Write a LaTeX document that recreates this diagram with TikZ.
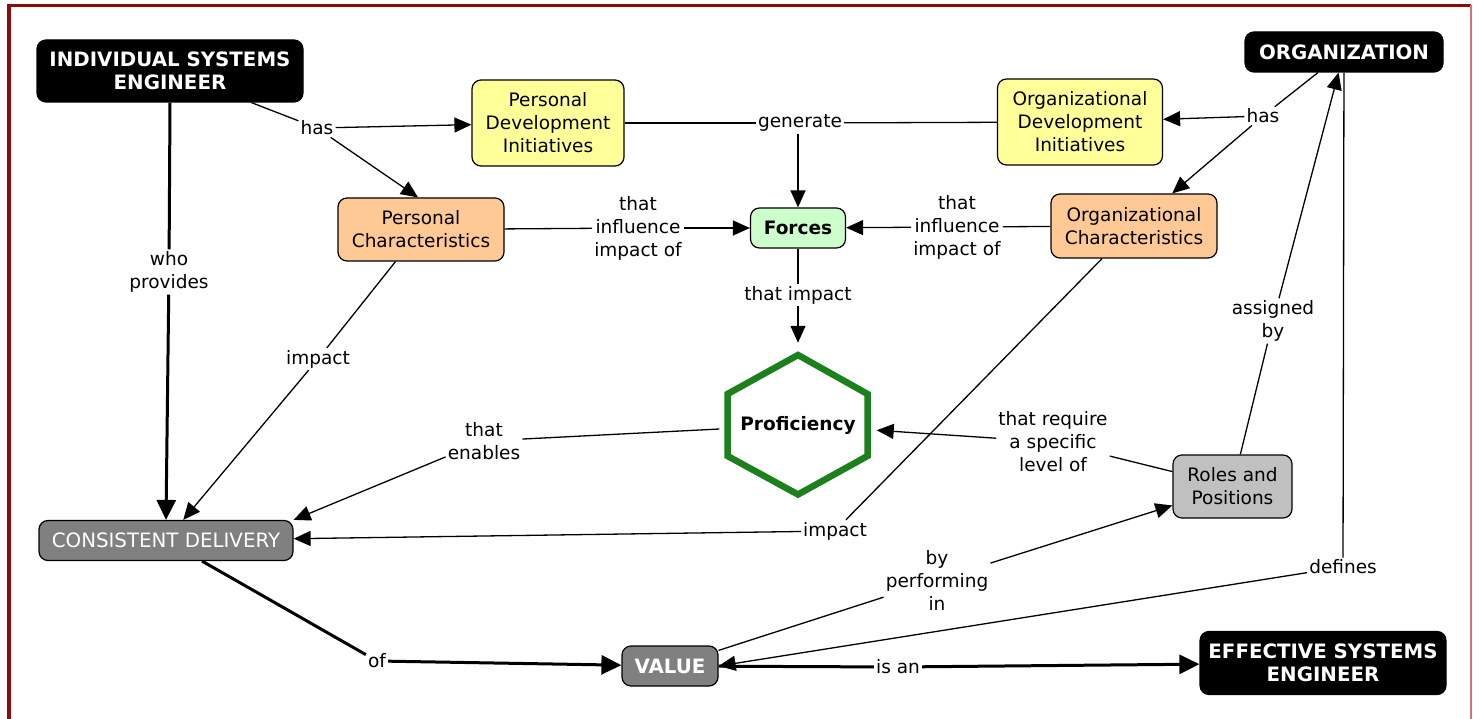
\documentclass[tikz,border=0pt]{standalone}
\usepackage{fontspec}
\setmainfont{DejaVu Sans}
\usetikzlibrary{arrows.meta,calc}
\definecolor{framered}{RGB}{139,12,12}
\definecolor{framepink}{RGB}{205,120,120}
\definecolor{initiative}{RGB}{255,255,153}
\definecolor{trait}{RGB}{255,201,150}
\definecolor{forcegreen}{RGB}{204,255,204}
\definecolor{rolegrey}{RGB}{192,192,192}
\definecolor{midgrey}{RGB}{128,128,128}
\definecolor{hexgreen}{RGB}{28,128,28}
\begin{document}
\begin{tikzpicture}[x=1pt,y=-1pt,
  every node/.style={font=\fontsize{18.5}{23}\selectfont, align=center},
  concept/.style={draw=black, line width=1.2pt, rounded corners=9pt, inner sep=0pt},
  capsfont/.style={font=\fontsize{19.8}{23}\selectfont},
  capsbold/.style={font=\fontsize{19.8}{23}\selectfont\bfseries},
  darkc/.style={concept, fill=black, text=white, capsbold},
  lp/.style={inner sep=2pt, fill=white},
  con/.style={line width=1.3pt},
  conarr/.style={con, -{Triangle[length=17pt,width=15pt]}},
  heavy/.style={line width=3pt},
  heavyarr/.style={heavy, -{Triangle[length=20pt,width=19pt]}},
]
\useasboundingbox (0,0) rectangle (1473,719);

% outer frame
\draw[framered, line width=3.5pt] (9,719) -- (9,5.5) -- (1471,5.5);
\draw[framepink, line width=1.3pt] (1471,5.5) -- (1471,719);

% concepts
\node[darkc, minimum width=266pt, minimum height=62pt] (ise) at (170,71) {INDIVIDUAL SYSTEMS\\ENGINEER};
\node[darkc, minimum width=198pt, minimum height=40pt] (org) at (1344,52) {ORGANIZATION};
\node[concept, fill=initiative, minimum width=152pt, minimum height=86pt] (pdi) at (548,123) {Personal\\Development\\Initiatives};
\node[concept, fill=initiative, minimum width=165pt, minimum height=86pt] (odi) at (1080,122) {Organizational\\Development\\Initiatives};
\node[concept, fill=trait, minimum width=166pt, minimum height=63pt] (pc) at (421,229.5) {Personal\\Characteristics};
\node[concept, fill=trait, minimum width=166pt, minimum height=64pt] (oc) at (1134,226) {Organizational\\Characteristics};
\node[concept, fill=forcegreen, minimum width=95pt, minimum height=40pt, font=\fontsize{18.5}{23}\selectfont\bfseries] (forces) at (798,228) {Forces};
\node[concept, fill=rolegrey, minimum width=119pt, minimum height=63pt] (roles) at (1232.5,486.5) {Roles and\\Positions};
\node[concept, fill=midgrey, text=white, capsfont, minimum width=254pt, minimum height=40pt] (cd) at (166,540.5) {CONSISTENT DELIVERY};
\node[concept, fill=midgrey, text=white, capsbold, minimum width=96pt, minimum height=40pt] (value) at (670,666) {VALUE};
\node[darkc, minimum width=246pt, minimum height=63pt] (ese) at (1323,663) {EFFECTIVE SYSTEMS\\ENGINEER};

% proficiency hexagon
\node[inner sep=0pt, minimum width=157pt, minimum height=164pt, font=\fontsize{18.5}{23}\selectfont\bfseries] (prof) at (798,425) {Proficiency};
\draw[hexgreen, line width=6.5pt, line join=miter]
  ($(prof.center)+(0,-70)$) -- ($(prof.center)+(69.5,-31)$) -- ($(prof.center)+(69.5,31)$)
  -- ($(prof.center)+(0,69.5)$) -- ($(prof.center)+(-70.5,31)$) -- ($(prof.center)+(-70.5,-31)$) -- cycle;

% linking phrases
\node[lp] (has1) at (317,128) {has};
\node[lp] (gen) at (800,123) {generate};
\node[lp] (who) at (169,272) {who\\provides};
\node[lp] (tia) at (638,228) {that\\influence\\impact of};
\node[lp] (tib) at (957,227) {that\\influence\\impact of};
\node[lp] (ti) at (798,295) {that impact};
\node[lp] (imp1) at (318,359) {impact};
\node[lp] (enab) at (484,441) {that\\enables};
\node[lp] (req) at (1053,442) {that require\\a specific\\level of};
\node[lp] (imp2) at (835,531) {impact};
\node[lp] (asg) at (1273,321) {assigned\\by};
\node[lp] (def) at (1343,567) {defines};
\node[lp] (perf) at (937,580) {by\\performing\\in};
\node[lp] (of) at (377,661) {of};
\node[lp] (isan) at (898,667) {is an};
\node[lp] (has2) at (1263,116) {has};

% connectors
\draw[con] (ise) -- (has1);
\draw[conarr] (has1) -- (pdi);
\draw[conarr] (has1) -- ($(pc.north)+(-3,0)$);
\draw[con] (pdi) -- (gen);
\draw[con] (odi) -- (gen);
\draw[conarr] (gen.south -| forces.north) -- (forces);
\draw[heavy] (ise.south) -- (who);
\draw[heavyarr] (who) -- (cd.north);
\draw[con] (pc) -- (tia);
\draw[conarr] (tia) -- (forces);
\draw[con] (oc) -- (tib);
\draw[conarr] (tib) -- (forces);
\draw[con] (forces) -- (ti);
\draw[conarr] (ti) -- (prof);
\draw[con] (pc) -- (imp1);
\draw[conarr] (imp1) -- (cd);
\draw[con] (prof) -- (enab);
\draw[conarr] (enab) -- (cd.north east);
\draw[con] (roles) -- (req);
\draw[conarr] (req) -- (prof);
\draw[con] (oc) -- (imp2);
\draw[conarr] (imp2) -- (cd);
\draw[con] (roles) -- (asg);
\draw[conarr] (asg) -- (org);
\draw[con] (org) -- (def);
\draw[conarr] (def) -- (value.east);
\draw[con] (value) -- (perf);
\draw[conarr] (perf) -- (roles);
\draw[heavy] (cd) -- (of);
\draw[heavyarr] (of) -- (value);
\draw[heavy] (value) -- (isan);
\draw[heavyarr] (isan) -- (ese);
\draw[con] (org) -- (has2);
\draw[conarr] (has2) -- (odi);
\draw[conarr] (has2) -- (oc);
\end{tikzpicture}
\end{document}
